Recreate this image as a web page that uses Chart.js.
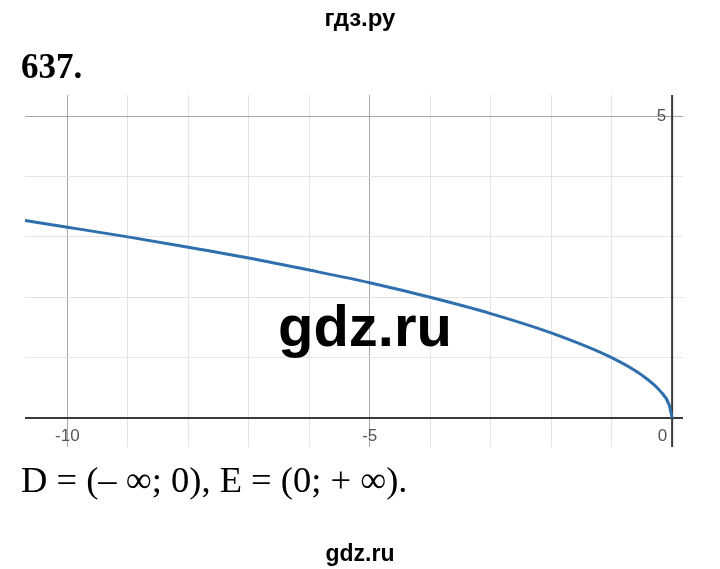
<!DOCTYPE html>
<html>
<head>
<meta charset="utf-8">
<script src="https://cdn.jsdelivr.net/npm/chart.js@4"></script>
<style>
  html, body { margin: 0; padding: 0; background: #fff; }
  #wrap { position: relative; width: 720px; height: 569px; overflow: hidden; }
  #graph { position: absolute; left: 0; top: 0; }
  .txt { position: absolute; white-space: nowrap; color: #000; line-height: 1.1; }
  #site { left: 0; width: 720px; text-align: center; top: 4px; font: bold 24px "Liberation Sans", Arial, sans-serif; }
  #num { left: 21px; top: 47px; font: bold 35px "Liberation Serif", "Times New Roman", serif; }
  #answer { left: 21px; top: 458px; font: 36.5px "Liberation Serif", "Times New Roman", serif; }
  #mark { left: 0; width: 730px; text-align: center; top: 292px; font: bold 58px "Liberation Sans", Arial, sans-serif; }
  #foot { left: 0; width: 720px; text-align: center; top: 540px; font: bold 23px "Liberation Sans", Arial, sans-serif; }
</style>
</head>
<body>
<div id="wrap">
  <canvas id="graph" width="720" height="569"></canvas>
  <div class="txt" id="site">гдз.ру</div>
  <div class="txt" id="num">637.</div>
  <div class="txt" id="answer">D = (– ∞; 0), E = (0; + ∞).</div>
  <div class="txt" id="mark">gdz.ru</div>
  <div class="txt" id="foot">gdz.ru</div>
</div>
<script>
const xs = [-10.7, -10, -9, -8, -7, -6, -5, -4, -3, -2, -1, -0.5, -0.2, -0.05, 0];
const ys = [3.27, 3.16, 3.0, 2.83, 2.65, 2.45, 2.24, 2.0, 1.73, 1.41, 1.0, 0.71, 0.45, 0.22, 0];
const xTickLabels = [-10, -5, 0];
const yTickLabels = [5];

const points = xs.map((x, i) => ({ x: x, y: ys[i] }));

// minor lines every 1, darker major lines every 5
const gridColor = ctx => {
  const v = ctx.tick.value;
  if (!Number.isInteger(v)) return 'rgba(0,0,0,0)';
  return v % 5 === 0 ? '#a8a8a8' : '#e4e4e4';
};

// draws the two axes through the origin and the few labels
const axesPlugin = {
  id: 'axes',
  beforeDatasetsDraw(chart) {
    const { ctx, chartArea: a, scales: { x, y } } = chart;
    const x0 = x.getPixelForValue(0), y0 = y.getPixelForValue(0);
    ctx.save();
    ctx.strokeStyle = '#3a3a3a';
    ctx.lineWidth = 2;
    ctx.beginPath();
    ctx.moveTo(a.left, y0); ctx.lineTo(a.right, y0);
    ctx.moveTo(x0, a.top); ctx.lineTo(x0, a.bottom);
    ctx.stroke();
    ctx.fillStyle = '#555';
    ctx.font = '17px "Liberation Sans", Arial, sans-serif';
    ctx.textBaseline = 'top';
    xTickLabels.forEach(v => {
      const px = x.getPixelForValue(v);
      ctx.textAlign = v === 0 ? 'right' : 'center';
      ctx.fillText(String(v), v === 0 ? px - 5 : px, y0 + 10);
    });
    ctx.textBaseline = 'middle';
    ctx.textAlign = 'right';
    yTickLabels.forEach(v => {
      ctx.fillText(String(v), x0 - 6, y.getPixelForValue(v));
    });
    ctx.restore();
  }
};

new Chart(document.getElementById('graph'), {
  type: 'scatter',
  data: {
    datasets: [{
      data: points,
      showLine: true,
      borderColor: '#2f6fad',
      borderWidth: 3,
      pointRadius: 0,
      cubicInterpolationMode: 'monotone'
    }]
  },
  options: {
    responsive: false,
    animation: false,
    layout: { padding: { left: 25, right: 37, top: 95, bottom: 122 } },
    plugins: { legend: { display: false }, tooltip: { enabled: false } },
    scales: {
      x: {
        type: 'linear', min: -10.7, max: 0.18,
        ticks: { stepSize: 1, display: false, includeBounds: false },
        grid: { color: gridColor, lineWidth: 1, drawTicks: false },
        border: { display: false }
      },
      y: {
        type: 'linear', min: -0.48, max: 5.35,
        ticks: { stepSize: 1, display: false, includeBounds: false },
        grid: { color: gridColor, lineWidth: 1, drawTicks: false },
        border: { display: false }
      }
    }
  },
  plugins: [axesPlugin]
});
</script>
</body>
</html>
